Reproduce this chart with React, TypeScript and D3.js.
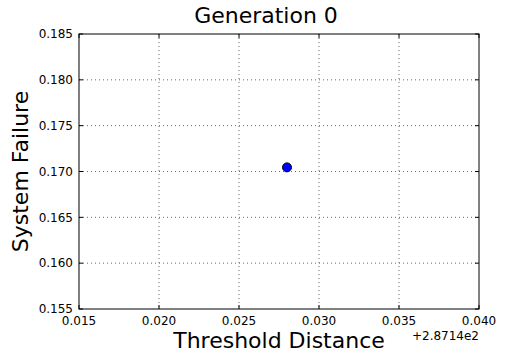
import React from "react";
import * as d3 from "d3";

// offset used by the x axis (matplotlib style "+2.8714e2")
const xOffset = 287.14;
const xOffsetLabel = "+2.8714e2";

// the single population member of generation 0
const thresholdValues = [287.168];
const failureValues = [0.17045];

const xTicks = [0.015, 0.02, 0.025, 0.03, 0.035, 0.04];
const yTicks = [0.155, 0.16, 0.165, 0.17, 0.175, 0.18, 0.185];

const title = "Generation 0";
const xLabel = "Threshold Distance";
const yLabel = "System Failure";

const W = 532;
const H = 354;
const m = { left: 79, right: 53, top: 34, bottom: 45 };
const font = "DejaVu Sans, sans-serif";

export default function App() {
  const x = d3.scaleLinear().domain([0.015, 0.04]).range([m.left, W - m.right]);
  const y = d3.scaleLinear().domain([0.155, 0.185]).range([H - m.bottom, m.top]);
  const [x0, x1] = x.range();
  const [y0, y1] = y.range();
  const fmt = d3.format(".3f");

  return (
    <svg
      width={W}
      height={H}
      style={{ position: "absolute", left: 0, top: 0, background: "#fff" }}
      fontFamily={font}
    >
      <rect x={0} y={0} width={W} height={H} fill="#fff" />
      {/* grid */}
      <g stroke="#000" strokeWidth={0.6} strokeDasharray="1,3">
        {xTicks.slice(1, -1).map((t) => (
          <line key={"gx" + t} x1={x(t)} x2={x(t)} y1={y1} y2={y0} />
        ))}
        {yTicks.slice(1, -1).map((t) => (
          <line key={"gy" + t} x1={x0} x2={x1} y1={y(t)} y2={y(t)} />
        ))}
      </g>
      {/* ticks, inward on all four sides */}
      <g stroke="#000" strokeWidth={1}>
        {xTicks.map((t) => (
          <g key={"tx" + t}>
            <line x1={x(t)} x2={x(t)} y1={y0} y2={y0 - 4} />
            <line x1={x(t)} x2={x(t)} y1={y1} y2={y1 + 4} />
          </g>
        ))}
        {yTicks.map((t) => (
          <g key={"ty" + t}>
            <line x1={x0} x2={x0 + 4} y1={y(t)} y2={y(t)} />
            <line x1={x1} x2={x1 - 4} y1={y(t)} y2={y(t)} />
          </g>
        ))}
      </g>
      {/* points */}
      {thresholdValues.map((v, i) => (
        <circle
          key={i}
          cx={x(v - xOffset)}
          cy={y(failureValues[i])}
          r={4.5}
          fill="#0000ff"
          stroke="#000"
          strokeWidth={1}
        />
      ))}
      {/* frame */}
      <rect x={x0} y={y1} width={x1 - x0} height={y0 - y1} fill="none" stroke="#000" strokeWidth={1} />
      {/* tick labels */}
      <g fontSize={12} fill="#000">
        {xTicks.map((t) => (
          <text key={"lx" + t} x={x(t)} y={y0 + 16} textAnchor="middle">
            {fmt(t)}
          </text>
        ))}
        {yTicks.map((t) => (
          <text key={"ly" + t} x={x0 - 6} y={y(t)} dy="0.35em" textAnchor="end">
            {fmt(t)}
          </text>
        ))}
        <text x={x1} y={y0 + 31} textAnchor="end">
          {xOffsetLabel}
        </text>
      </g>
      <text x={W / 2} y={23} textAnchor="middle" fontSize={22}>
        {title}
      </text>
      <text x={(x0 + x1) / 2} y={348} textAnchor="middle" fontSize={22}>
        {xLabel}
      </text>
      <text
        transform={`translate(28,${(y0 + y1) / 2}) rotate(-90)`}
        textAnchor="middle"
        fontSize={22}
      >
        {yLabel}
      </text>
    </svg>
  );
}
